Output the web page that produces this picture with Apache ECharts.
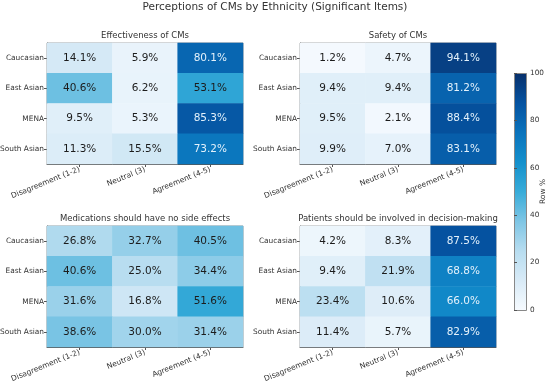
<!DOCTYPE html>
<html>
<head>
<meta charset="utf-8">
<script src="https://cdn.jsdelivr.net/npm/echarts@6/dist/echarts.min.js"></script>
<style>html,body{margin:0;padding:0;background:#fff}#c{width:550px;height:388px}</style>
</head>
<body>
<div id="c"></div>
<script>
const columns = ['Disagreement (1-2)', 'Neutral (3)', 'Agreement (4-5)'];
const ethnicities = ['Caucasian', 'East Asian', 'MENA', 'South Asian'];
const panelTitles = ['Effectiveness of CMs', 'Safety of CMs', 'Medications should have no side effects', 'Patients should be involved in decision-making'];
const effectiveness = [[14.1, 5.9, 80.1], [40.6, 6.2, 53.1], [9.5, 5.3, 85.3], [11.3, 15.5, 73.2]];
const safety = [[1.2, 4.7, 94.1], [9.4, 9.4, 81.2], [9.5, 2.1, 88.4], [9.9, 7.0, 83.1]];
const sideEffects = [[26.8, 32.7, 40.5], [40.6, 25.0, 34.4], [31.6, 16.8, 51.6], [38.6, 30.0, 31.4]];
const decisionMaking = [[4.2, 8.3, 87.5], [9.4, 21.9, 68.8], [23.4, 10.6, 66.0], [11.4, 5.7, 82.9]];
const colorbarTicks = [0, 20, 40, 60, 80, 100];
const palette = ['#f7fbff', '#d9ebf7', '#b8ddf0', '#7fc6e5', '#38acd9', '#1490cc', '#0a73bc', '#0552a0', '#08306b'];

const panels = [effectiveness, safety, sideEffects, decisionMaking];
const FONT = 'DejaVu Sans';
const gridPos = [
  {left: 47, top: 43}, {left: 300, top: 43},
  {left: 47, top: 226}, {left: 300, top: 226}
];
const GW = 196, GH = 121;
const CB = {left: 514, top: 73, width: 12, height: 237};

const grids = [], xAxes = [], yAxes = [], series = [], titles = [];
panels.forEach((p, i) => {
  grids.push({left: gridPos[i].left, top: gridPos[i].top, width: GW, height: GH,
    outerBoundsMode: 'none', containLabel: false,
    show: true, borderColor: '#9a9a9a', borderWidth: 1, backgroundColor: 'transparent'});
  xAxes.push({type: 'category', gridIndex: i, data: columns,
    axisLine: {show: true, lineStyle: {color: '#555', width: 1}},
    axisTick: {show: true, alignWithLabel: true, length: 3, lineStyle: {color: '#555'}},
    axisLabel: {rotate: 22, fontSize: 7.5, color: '#333', fontFamily: FONT, margin: 5, interval: 0},
    splitLine: {show: false}});
  yAxes.push({type: 'category', gridIndex: i, data: ethnicities, inverse: true,
    axisLine: {show: true, lineStyle: {color: '#555', width: 1}},
    axisTick: {show: true, alignWithLabel: true, length: 3, lineStyle: {color: '#555'}},
    axisLabel: {fontSize: 7.4, color: '#333', fontFamily: FONT, margin: 3},
    splitLine: {show: false}});
  const data = [];
  p.forEach((row, r) => row.forEach((v, c) => {
    data.push({value: [c, r, v], label: {color: v > 60 ? '#e3f1fb' : '#1c1c1c'}});
  }));
  series.push({type: 'heatmap', xAxisIndex: i, yAxisIndex: i, data: data,
    label: {show: true, fontSize: 10.5, fontFamily: FONT,
      formatter: (d) => d.value[2].toFixed(1) + '%'},
    itemStyle: {borderWidth: 0},
    emphasis: {disabled: true}});
  titles.push({text: panelTitles[i], left: gridPos[i].left + GW / 2, top: gridPos[i].top - 12,
    textAlign: 'center', padding: 0,
    textStyle: {fontSize: 8.5, fontWeight: 'normal', color: '#333', fontFamily: FONT}});
});

// colorbar axis grid
grids.push({left: CB.left, top: CB.top, width: CB.width, height: CB.height, show: false,
  outerBoundsMode: 'none', containLabel: false});
xAxes.push({type: 'value', gridIndex: 4, show: false, min: 0, max: 1});
yAxes.push({type: 'value', gridIndex: 4, position: 'right', min: 0, max: 100, interval: 20, z: 20,
  axisLine: {show: false}, splitLine: {show: false},
  axisTick: {show: true, length: 3, lineStyle: {color: '#555'}},
  axisLabel: {fontSize: 7.3, color: '#333', fontFamily: FONT, margin: 4}});

titles.unshift({text: 'Perceptions of CMs by Ethnicity (Significant Items)', left: 275, top: 2,
  textAlign: 'center', padding: 0,
  textStyle: {fontSize: 10.5, fontWeight: 'normal', color: '#333', fontFamily: FONT}});

const chart = echarts.init(document.getElementById('c'), null, {renderer: 'canvas'});
chart.setOption({
  animation: false,
  backgroundColor: '#fff',
  title: titles,
  grid: grids,
  xAxis: xAxes,
  yAxis: yAxes,
  visualMap: {
    type: 'continuous', min: 0, max: 100, seriesIndex: [0, 1, 2, 3], show: false,
    inRange: {color: palette}
  },
  graphic: [{
    type: 'rect', left: CB.left, top: CB.top, z: 1,
    shape: {width: CB.width, height: CB.height},
    style: {stroke: '#888', lineWidth: 1,
      fill: new echarts.graphic.LinearGradient(0, 1, 0, 0,
        palette.map((c, k) => ({offset: k / (palette.length - 1), color: c})))}
  }, {
    type: 'text', x: 543, y: CB.top + CB.height / 2, rotation: Math.PI / 2, z: 20,
    style: {text: 'Row %', fontSize: 7.5, fontFamily: FONT, fill: '#333',
      align: 'center', verticalAlign: 'middle'}
  }],
  series: series
});
</script>
</body>
</html>
